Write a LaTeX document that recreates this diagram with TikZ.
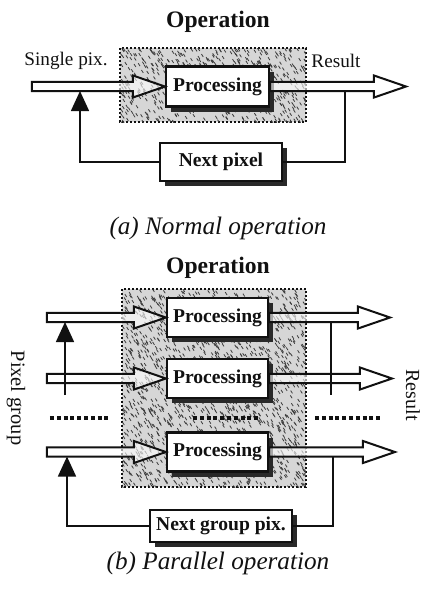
\documentclass[tikz,border=0pt]{standalone}
\usepackage{fontspec}
\setmainfont{Liberation Serif}
\usetikzlibrary{arrows.meta,shadows,calc}
\definecolor{plateink}{HTML}{111111}
\definecolor{platehatch}{HTML}{3C3C3C}
\definecolor{platefill}{HTML}{D6D6D6}

% hollow block arrow, horizontal, from #1 to #2
\newcommand{\fatarrow}[2]{%
  \path[fat] let \p1=(#1), \p2=(#2) in
    (\x1,\y1+2.3pt) -- (\x2-16pt,\y1+2.3pt) -- (\x2-16pt,\y1+5.5pt)
    -- (\x2,\y1) -- (\x2-16pt,\y1-5.5pt) -- (\x2-16pt,\y1-2.3pt)
    -- (\x1,\y1-2.3pt) -- cycle;}

% scattered strokes over a rectangle: x0, y0, width, height, count
\newcommand{\speckle}[5]{%
  \begin{scope}
    \clip (#1,#2) rectangle ++(#3,#4);
    \foreach \k in {1,...,#5}{
      \pgfmathsetmacro{\sx}{#1+#3*rnd}
      \pgfmathsetmacro{\sy}{#2+#4*rnd}
      \draw[hatch] (\sx,\sy) -- ++(1.8,2.8);
    }
  \end{scope}}

\begin{document}
\begin{tikzpicture}[
  x=0.5pt,
  y=-0.5pt,
  every node/.style={plateink},
  proc/.style={draw=plateink, line width=1.1pt, fill=white,
    font=\fontsize{9.8}{11}\selectfont\bfseries,
    minimum width=51.5pt, minimum height=20pt, inner sep=0pt,
    drop shadow={shadow xshift=2.6pt, shadow yshift=-2.6pt,
      fill=plateink!90, opacity=1}},
  region/.style={fill=platefill, draw=plateink, line width=1pt, densely dotted},
  hatch/.style={platehatch, line width=0.4pt},
  fat/.style={draw=plateink, line width=1pt, fill=white, fill opacity=0.6,
    line join=miter},
  feed/.style={draw=plateink, line width=0.75pt},
  feedtip/.style={feed, -{Triangle[length=10pt, width=9pt]}},
  gap/.style={plateink, line width=2pt, dash pattern=on 2pt off 1.4pt},
  label/.style={font=\fontsize{9.6}{11}\selectfont},
  title/.style={font=\fontsize{11.8}{13}\selectfont\bfseries},
  caption/.style={font=\fontsize{12.6}{14}\selectfont\itshape}
]
  \useasboundingbox (0,0) rectangle (421,591);
  \pgfmathsetseed{11}

  % ---- (a) single pixel ----
  \node[title] (titleA) at (218,22) {Operation};
  \path[region] (120,48) rectangle (306,122);
  \speckle{120}{48}{186}{74}{650}

  \node[proc] (procA) at (217.5,86.5) {Processing};
  \coordinate (srcA) at (32,86.5);
  \coordinate (dstA) at (406,86.5);
  \fatarrow{srcA}{procA.west}
  \fatarrow{procA.east}{dstA}
  \node[label] (singlepix) at (66,61) {Single pix.};
  \node[label] (resultA) at (336,61) {Result};

  \node[proc, minimum width=61pt, minimum height=19pt] (nextA) at (221,162) {Next pixel};
  \coordinate (tapA) at (345,91);
  \coordinate (feedA) at (80,91);
  \draw[feed] (tapA) |- (nextA.east);
  \draw[feedtip] (nextA.west) -| (feedA);

  \node[caption] (capA) at (218,228) {(a) Normal operation};

  % ---- (b) group of pixels ----
  \node[title] (titleB) at (218,268) {Operation};
  \path[region] (122,289) rectangle (306,487);
  \speckle{122}{289}{184}{198}{1700}

  \foreach \r/\y/\e in {1/317.5/390, 2/378.5/392, 3/452/395}{
    \node[proc, minimum width=50.5pt, minimum height=19.5pt] (proc\r) at (217.5,\y) {Processing};
    \coordinate (src\r) at (47,\y);
    \coordinate (dst\r) at (\e,\y);
    \fatarrow{src\r}{proc\r.west}
    \fatarrow{proc\r.east}{dst\r}
  }

  % loop-back lines across the first two rows
  \coordinate (grpfoot) at (65,395);
  \coordinate (grpfeed) at (65,322);
  \draw[feedtip] (grpfoot) -- (grpfeed);
  \coordinate (rowtap) at (331,322);
  \coordinate (rowfoot) at (331,395);
  \draw[feed] (rowtap) -- (rowfoot);

  % rows left out
  \draw[gap] (50,418) -- (110,418);
  \draw[gap] (193,418) -- (258,418);
  \draw[gap] (315,418) -- (380,418);

  \node[proc, minimum width=71pt, minimum height=16pt] (nextB) at (221,526) {Next group pix.};
  \coordinate (tapB) at (333,456.5);
  \coordinate (feedB) at (67,456.5);
  \draw[feed] (tapB) |- (nextB.east);
  \draw[feedtip] (nextB.west) -| (feedB);

  \node[label, font=\fontsize{10.2}{12}\selectfont, rotate=-90] (pixgroup) at (16,398) {Pixel group};
  \node[label, font=\fontsize{10}{12}\selectfont, rotate=-90] (resultB) at (413,395) {Result};

  \node[caption] (capB) at (218,563) {(b) Parallel operation};
\end{tikzpicture}
\end{document}
